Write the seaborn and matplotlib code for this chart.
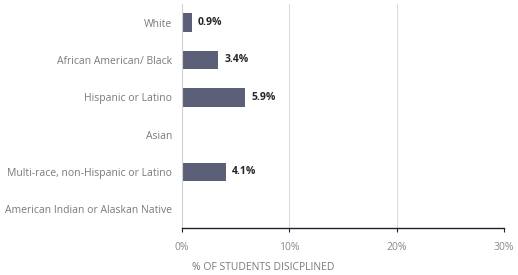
import matplotlib
matplotlib.use("Agg")
import matplotlib.pyplot as plt
import seaborn as sns
import pandas as pd
import numpy as np

categories = ["White", "African American/ Black", "Hispanic or Latino", "Asian",
              "Multi-race, non-Hispanic or Latino", "American Indian or Alaskan Native"]
values = [0.9, 3.4, 5.9, np.nan, 4.1, np.nan]
value_labels = ["0.9%", "3.4%", "5.9%", "", "4.1%", ""]
xticks = [0, 10, 20, 30]
xtick_labels = ["0%", "10%", "20%", "30%"]

sns.set_theme(style="white")
plt.rcParams['font.family'] = ['Open Sans', 'DejaVu Sans']

df = pd.DataFrame({"cat": categories, "val": values})

fig = plt.figure(figsize=(5.18, 2.75), dpi=100)
ax = fig.add_axes([182/518, 1-228/275, (504-182)/518, (228-4)/275])

sns.barplot(data=df, y="cat", x="val", order=categories, color="#5b5f78",
            width=0.5, ax=ax, saturation=1, linewidth=0)

ax.set_xlim(0, 30)
ax.set_ylim(5.5, -0.5)
ax.set_xticks(xticks)
ax.set_xticklabels(xtick_labels)
for x in xticks[1:]:
    ax.axvline(x, color="#dcdcdc", lw=0.8, zorder=0)

for i, (v, lab) in enumerate(zip(values, value_labels)):
    if lab:
        ax.text(v + 0.55, i, lab, va="center", ha="left", fontsize=7.5,
                fontweight="bold", color="#262626")

for s in ["top", "right"]:
    ax.spines[s].set_visible(False)
ax.spines["left"].set_color("#d0d0d0")
ax.spines["left"].set_linewidth(0.8)
ax.spines["bottom"].set_color("#1f2230")
ax.spines["bottom"].set_linewidth(1.0)

ax.tick_params(axis="x", which="both", bottom=True, length=3, width=0.8,
               color="#1f2230", labelsize=7.5, labelcolor="#8a8a8a", pad=7)
ax.tick_params(axis="y", left=False, length=0, labelsize=7.5,
               labelcolor="#7a7a7a", pad=7)

ax.set_ylabel("")
ax.set_xlabel("% OF STUDENTS DISICPLINED", fontsize=7.5, color="#7a7a7a")
ax.xaxis.set_label_coords(10/322, -0.15)
ax.xaxis.label.set_horizontalalignment("left")

fig.savefig("out.png", dpi=100)
